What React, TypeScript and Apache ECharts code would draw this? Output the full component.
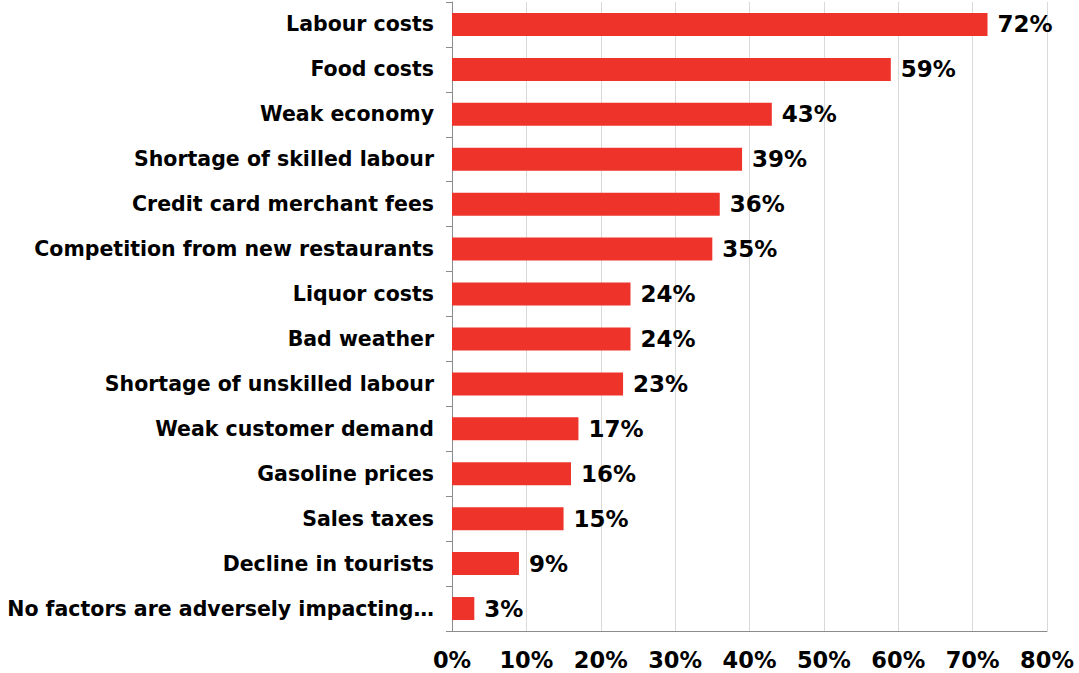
import React, { useEffect, useRef } from "react";
import * as echarts from "echarts";

const categories = [
  "Labour costs",
  "Food costs",
  "Weak economy",
  "Shortage of skilled labour",
  "Credit card merchant fees",
  "Competition from new restaurants",
  "Liquor costs",
  "Bad weather",
  "Shortage of unskilled labour",
  "Weak customer demand",
  "Gasoline prices",
  "Sales taxes",
  "Decline in tourists",
  "No factors are adversely impacting…",
];
const values = [72, 59, 43, 39, 36, 35, 24, 24, 23, 17, 16, 15, 9, 3];
const xTicks = { min: 0, max: 80, interval: 10 };

const FONT = "'DejaVu Sans', Verdana, sans-serif";

export default function App() {
  const ref = useRef<HTMLDivElement>(null);
  useEffect(() => {
    if (!ref.current) return;
    const chart = echarts.init(ref.current, undefined, { renderer: "svg" });
    chart.setOption({
      animation: false,
      grid: {
        left: 452,
        right: 32,
        top: 2,
        bottom: 42,
        containLabel: false,
        outerBoundsMode: "none",
      },
      xAxis: {
        type: "value",
        min: xTicks.min,
        max: xTicks.max,
        interval: xTicks.interval,
        axisLine: { show: true, lineStyle: { color: "#8c8c8c", width: 1 } },
        axisTick: { show: false },
        splitLine: { show: true, lineStyle: { color: "#d9d9d9", width: 1 } },
        axisLabel: {
          formatter: "{value}%",
          color: "#000",
          fontFamily: FONT,
          fontWeight: "bold",
          fontSize: 22.5,
          margin: 17,
        },
      },
      yAxis: {
        type: "category",
        data: categories,
        inverse: true,
        axisLine: { show: true, lineStyle: { color: "#8c8c8c", width: 1 } },
        axisTick: { show: true, length: 6, lineStyle: { color: "#8c8c8c" } },
        axisLabel: {
          color: "#000",
          fontFamily: FONT,
          fontWeight: "bold",
          fontSize: 20.5,
          margin: 18,
        },
      },
      series: [
        {
          type: "bar",
          data: values,
          barWidth: 23,
          itemStyle: { color: "#EE342A" },
          label: {
            show: true,
            position: "right",
            distance: 10,
            formatter: "{c}%",
            color: "#000",
            fontFamily: FONT,
            fontWeight: "bold",
            fontSize: 23,
          },
        },
      ],
    });
    return () => chart.dispose();
  }, []);
  return <div ref={ref} style={{ width: 1079, height: 673, position: "absolute", left: 0, top: 0 }} />;
}
